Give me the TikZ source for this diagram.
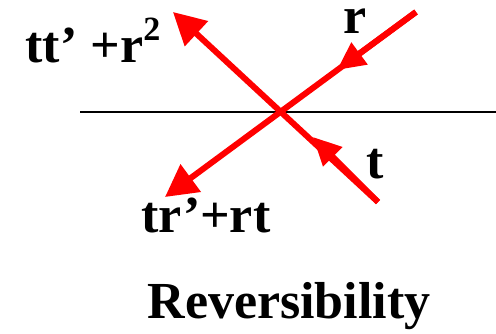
\documentclass[tikz,border=0pt]{standalone}
\usepackage{fontspec}
\setmainfont{Liberation Serif}
\usetikzlibrary{arrows.meta}

\begin{document}
\begin{tikzpicture}[
    x=1pt, y=-1pt,
    ray/.style={draw=red, line width=6pt, -{Triangle[length=32pt,width=33pt]}},
    label/.style={anchor=base, font=\fontsize{52}{58}\selectfont\bfseries, inner sep=0pt},
]
\useasboundingbox (0,0) rectangle (496,333);
% interface
\coordinate (hl) at (80,112);
\coordinate (hr) at (496,112);
\draw[line width=2pt] (hl) -- (hr);
% rays
\coordinate (rin) at (416,12);
\coordinate (rmid) at (337,70);
\coordinate (rout) at (165,197);
\coordinate (tin) at (378,202);
\coordinate (tmid) at (313,137);
\coordinate (tout) at (173,12);
\draw[ray] (rin) -- (rout);
\draw[ray] (tin) -- (tout);
\draw[ray, -{Triangle[length=28pt,width=26pt]}] (rin) -- (rmid);
\draw[ray, -{Triangle[length=28pt,width=26pt]}] (tin) -- (tmid);
% labels
\node[label] (lr) at (355,33) {r};
\node[label] (lt) at (375,178) {t};
\node[label] (lrefl) at (93,62) {tt’ +r\raisebox{0.42em}{\fontsize{34}{38}\selectfont 2}};
\node[label] (ltrans) at (206,232) {tr’+rt};
\node[label] (title) at (289,318) {Reversibility};
\end{tikzpicture}
\end{document}
